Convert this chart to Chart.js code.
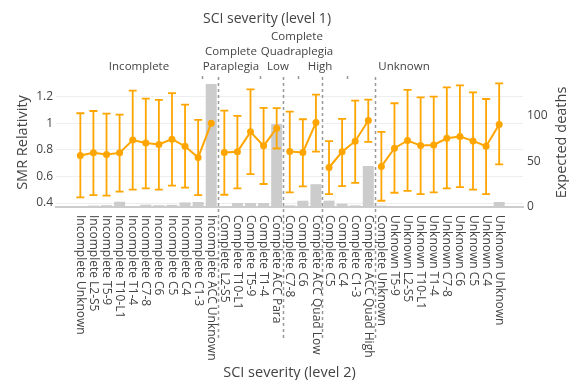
<!DOCTYPE html>
<html>
<head>
<meta charset="utf-8">
<script src="https://cdn.jsdelivr.net/npm/chart.js@4.4.1/dist/chart.umd.min.js"></script>
<style>
  html, body { margin: 0; padding: 0; background: #fff; }
</style>
</head>
<body>
<canvas id="chart" width="569" height="380"></canvas>
<script>
// level 1 groups (in order) and how many level 2 categories each holds
const level1Sizes = [11, 5, 3, 4, 10];

const level2Labels = [
    "Incomplete Unknown", "Incomplete L2-S5", "Incomplete T5-9", "Incomplete T10-L1",
    "Incomplete T1-4", "Incomplete C7-8", "Incomplete C6", "Incomplete C5",
    "Incomplete C4", "Incomplete C1-3", "Incomplete ACC Unknown",
    "Complete L2-S5", "Complete T10-L1", "Complete T5-9", "Complete T1-4", "Complete ACC Para",
    "Complete C7-8", "Complete C6", "Complete ACC Quad Low",
    "Complete C5", "Complete C4", "Complete C1-3", "Complete ACC Quad High",
    "Complete Unknown", "Unknown T5-9", "Unknown L2-S5", "Unknown T10-L1", "Unknown T1-4",
    "Unknown C7-8", "Unknown C6", "Unknown C5", "Unknown C4", "Unknown Unknown",
];

const smrValues = [
    0.757, 0.778, 0.765, 0.777, 0.873, 0.852, 0.84, 0.88, 0.827, 0.742, 1.0,
    0.78, 0.785, 0.935, 0.83, 0.963,
    0.787, 0.78, 1.005,
    0.667, 0.785, 0.865, 1.02,
    0.675, 0.812, 0.87, 0.832, 0.837, 0.887, 0.9, 0.867, 0.827, 0.99,
];
const smrUpper = [
    1.075, 1.092, 1.072, 1.065, 1.245, 1.185, 1.175, 1.227, 1.14, 1.025, null,
    1.095, 1.055, 1.255, 1.115, 1.113,
    1.087, 1.03, 1.215,
    0.865, 1.032, 1.17, 1.177,
    0.935, 1.15, 1.25, 1.195, 1.2, 1.27, 1.285, 1.232, 1.182, 1.3,
];
const smrLower = [
    0.442, 0.46, 0.455, 0.485, 0.5, 0.51, 0.5, 0.53, 0.515, 0.46, null,
    0.462, 0.51, 0.617, 0.543, 0.81,
    0.48, 0.525, 0.787,
    0.467, 0.527, 0.552, 0.86,
    0.417, 0.477, 0.492, 0.467, 0.48, 0.51, 0.52, 0.5, 0.467, 0.69,
];
const expectedDeaths = [
    1, 1.5, 2, 5.8, 0.3, 2.5, 2, 2.3, 5, 5.5, 135,
    1, 4.4, 4.4, 4.4, 91,
    1.8, 6.9, 25,
    7, 3.6, 1.8, 45,
    1.5, 0.4, 0.4, 0.4, 0.4, 0.4, 0.4, 0.4, 0.4, 5.5,
];

const smrTicks = [0.4, 0.6, 0.8, 1, 1.2];
const smrTickLabels = ["0.4", "0.6", "0.8", "1", "1.2"];
const deathTicks = [0, 50, 100];
const deathTickLabels = ["0", "50", "100"];

// top (level 1) header text, placed like the original annotations
const headerText = [
    { text: "Incomplete", x: 139, y: 67 },
    { text: "Complete", x: 231, y: 52 },
    { text: "Paraplegia", x: 231, y: 67 },
    { text: "Complete", x: 297, y: 37 },
    { text: "Quadraplegia", x: 297, y: 52 },
    { text: "Low", x: 278, y: 67 },
    { text: "High", x: 320, y: 67 },
    { text: "Unknown", x: 404, y: 67 },
];
const headerDividersX = [202, 260, 298, 347];

const orange = "#FFA500";
const textColor = "#444";
const font = '"Open Sans", sans-serif';

// group index of every category, used to break the line between groups
const groupOf = [];
level1Sizes.forEach((n, g) => { for (let k = 0; k < n; k++) groupOf.push(g); });

Chart.defaults.font.family = font;
Chart.defaults.color = textColor;

const extrasPlugin = {
    id: "extras",
    afterDatasetsDraw(chart) {
        const { ctx, scales } = chart;
        const x = scales.x, y = scales.y;
        ctx.save();
        // error bars
        ctx.strokeStyle = orange;
        ctx.lineWidth = 1.8;
        smrValues.forEach((v, i) => {
            if (smrUpper[i] == null) return;
            const px = x.getPixelForValue(i);
            const top = y.getPixelForValue(smrUpper[i]);
            const bot = y.getPixelForValue(smrLower[i]);
            ctx.beginPath();
            ctx.moveTo(px, top); ctx.lineTo(px, bot);
            ctx.moveTo(px - 4, top); ctx.lineTo(px + 4, top);
            ctx.moveTo(px - 4, bot); ctx.lineTo(px + 4, bot);
            ctx.stroke();
        });
        ctx.restore();
    },
    afterDraw(chart) {
        const { ctx, scales, chartArea } = chart;
        const x = scales.x;
        ctx.save();

        // dotted group dividers
        ctx.strokeStyle = "#999";
        ctx.lineWidth = 1.5;
        ctx.setLineDash([3, 3]);
        let start = 0;
        level1Sizes.slice(0, -1).forEach((n) => {
            start += n;
            const px = Math.round(x.getPixelForValue(start - 0.5)) + 0.5;
            ctx.beginPath();
            ctx.moveTo(px, chartArea.top - 1);
            ctx.lineTo(px, 338);
            ctx.stroke();
        });
        headerDividersX.forEach((px) => {
            ctx.beginPath();
            ctx.moveTo(px + 0.5, chartArea.top - 2);
            ctx.lineTo(px + 0.5, chartArea.top + 1);
            ctx.stroke();
        });
        ctx.setLineDash([]);

        ctx.fillStyle = textColor;

        // category labels, rotated to read top to bottom
        ctx.font = `12px ${font}`;
        ctx.textAlign = "left";
        ctx.textBaseline = "middle";
        level2Labels.forEach((label, i) => {
            const px = x.getPixelForValue(i);
            ctx.save();
            ctx.translate(px, chartArea.bottom + 8);
            ctx.rotate(Math.PI / 2);
            ctx.fillText(label, 0, 0);
            ctx.restore();
        });

        // header
        ctx.textAlign = "center";
        ctx.font = `11.5px ${font}`;
        headerText.forEach((h) => ctx.fillText(h.text, h.x, h.y));
        ctx.font = `14px ${font}`;
        ctx.fillText("SCI severity (level 1)", 267, 19);

        // axis titles
        ctx.font = `14.5px ${font}`;
        ctx.fillText("SCI severity (level 2)", (chartArea.left + chartArea.right) / 2, 373);
        const midY = (chartArea.top + chartArea.bottom) / 2;
        [["SMR Relativity", 22.5], ["Expected deaths", 561.5]].forEach(([t, px]) => {
            ctx.save();
            ctx.translate(px, midY);
            ctx.rotate(-Math.PI / 2);
            ctx.fillText(t, 0, 0);
            ctx.restore();
        });
        ctx.restore();
    },
};

new Chart(document.getElementById("chart"), {
    data: {
        datasets: [
            {
                type: "line",
                label: "SMR Relativity",
                data: smrValues.map((v, i) => ({ x: i, y: v })),
                yAxisID: "y",
                borderColor: orange,
                backgroundColor: orange,
                borderWidth: 2,
                pointRadius: 3.5,
                pointBorderWidth: 0,
                pointBackgroundColor: orange,
                segment: {
                    borderColor: (c) =>
                        groupOf[c.p0DataIndex] === groupOf[c.p1DataIndex] ? orange : "rgba(0,0,0,0)",
                },
                order: 1,
            },
            {
                type: "bar",
                label: "Expected deaths",
                data: expectedDeaths.map((v, i) => ({ x: i, y: v })),
                yAxisID: "y2",
                backgroundColor: "#cccccc",
                barPercentage: 1,
                categoryPercentage: 0.84,
                order: 2,
            },
        ],
    },
    options: {
        responsive: false,
        animation: false,
        layout: { padding: { top: 78, bottom: 173, left: 0, right: 0 } },
        plugins: { legend: { display: false }, tooltip: { enabled: false } },
        scales: {
            x: {
                type: "linear",
                min: -1.86,
                max: 33.82,
                offset: false,
                ticks: { display: false },
                grid: { display: false, drawTicks: false, offset: false },
                border: { color: "#cccccc", width: 2 },
                afterFit: (s) => { s.height = 0; },
            },
            y: {
                position: "left",
                min: 0.37,
                max: 1.34,
                afterBuildTicks: (s) => { s.ticks = smrTicks.map((v) => ({ value: v })); },
                ticks: {
                    padding: 3,
                    font: { size: 12 },
                    color: textColor,
                    callback: (v, i) => smrTickLabels[i],
                },
                grid: { color: "#eeeeee", drawTicks: false },
                border: { display: false },
                afterFit: (s) => { s.width = 56; },
            },
            y2: {
                position: "right",
                min: 0,
                max: 141.5,
                afterBuildTicks: (s) => { s.ticks = deathTicks.map((v) => ({ value: v })); },
                ticks: {
                    padding: 4,
                    font: { size: 12 },
                    color: textColor,
                    callback: (v, i) => deathTickLabels[i],
                },
                grid: { display: false, drawTicks: false },
                border: { display: false },
                afterFit: (s) => { s.width = 46; },
            },
        },
    },
    plugins: [extrasPlugin],
});
</script>
</body>
</html>
